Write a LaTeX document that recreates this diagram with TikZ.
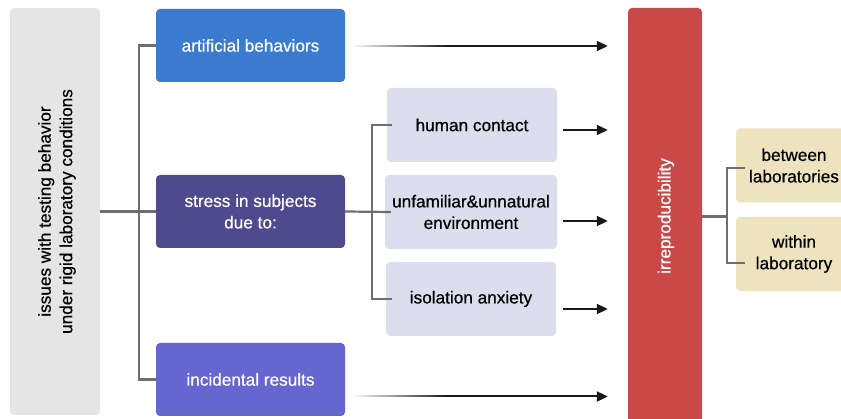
\documentclass[tikz,border=0pt]{standalone}
\usepackage{fontspec}
\setmainfont{Liberation Sans}
\newfontfamily\medsans{Liberation Sans}[FakeBold=0.6]
\usetikzlibrary{arrows.meta,fadings}
\definecolor{cgray}{HTML}{E5E5E5}
\definecolor{cblue}{HTML}{3A7BCF}
\definecolor{cstress}{HTML}{4E4A8E}
\definecolor{cinc}{HTML}{6666CF}
\definecolor{clav}{HTML}{DCDEED}
\definecolor{cred}{HTML}{C94949}
\definecolor{ctan}{HTML}{EEE3BF}
\definecolor{cline}{HTML}{6E6E6E}
\tikzfading[name=wfade, left color=transparent!0, right color=transparent!100]
\begin{document}
\begin{tikzpicture}[x=1pt,y=-1pt,
  box/.style={rounded corners=4pt, inner sep=2pt, align=center, font=\medsans\fontsize{17.2}{21.5}\selectfont},
  darkbox/.style={box, text=white},
  br/.style={draw=cline, line width=2.2pt},
  arr/.style={draw=black!90, line width=2pt, -{Triangle[length=11pt,width=10pt]}}]
\useasboundingbox (0,0) rectangle (841,419);
\clip (0,0) rectangle (841,419);
% left column
\node[box, fill=cgray, minimum width=90pt, minimum height=407pt] (gray) at (55,211.5) {};
\node[box, rotate=90, text=black] (graytxt) at (57,211.5) {issues with testing behavior\\under rigid laboratory conditions};
% main boxes
\node[darkbox, fill=cblue, minimum width=189pt, minimum height=73pt] (art) at (250.5,45.5) {artificial behaviors};
\node[darkbox, fill=cstress, minimum width=189pt, minimum height=73pt] (stress) at (250.5,211.5) {stress in subjects\\due to:};
\node[darkbox, fill=cinc, minimum width=189pt, minimum height=73pt] (inc) at (250.5,379.5) {incidental results};
% sub boxes
\node[box, fill=clav, minimum width=170pt, minimum height=74pt] (hum) at (472,125) {human contact};
\node[box, fill=clav, minimum width=172pt, minimum height=74pt] (unf) at (471,212) {unfamiliar\&unnatural\\environment};
\node[box, fill=clav, minimum width=170pt, minimum height=74pt] (iso) at (471,299) {isolation anxiety};
% red box
\node[darkbox, fill=cred, minimum width=74pt, minimum height=422pt] (red) at (665,219) {};
\node[box, rotate=90, text=white] (redtxt) at (666,216) {irreproducibility};
% tan boxes
\node[box, fill=ctan, minimum width=116pt, minimum height=74pt] (bet) at (794,165.5) {between\\laboratories};
\node[box, fill=ctan, minimum width=116pt, minimum height=74pt] (wit) at (794,254) {within\\laboratory};
% brackets left
\draw[br] (gray.east) -- (stress.west);
\draw[br] (art.west) -- ++(-17,0) |- (inc.west);
% brackets middle
\draw[br] (stress.east) -- ([xshift=6pt]unf.west);
\draw[br] ([xshift=5pt]hum.west) -- ++(-20,0) coordinate (mtop) |- ([xshift=6pt]iso.west);
% brackets right
\coordinate (rb) at (727,216.5);
\coordinate (rbt) at (727,168);
\coordinate (rbb) at (727,263);
\draw[br] (red.east |- rb) -- (rb);
\draw[br] ([xshift=18pt]rbt) -- (rbt) -- (rbb) -- ([xshift=18pt]rbb);
% arrows
\draw[arr, shorten >=20pt] ([shift={(7pt,-0.5pt)}]art.east) coordinate (a1) -- (a1 -| red.west);
\fill[white, path fading=wfade] ([shift={(-1pt,-4pt)}]a1) rectangle ([shift={(95pt,4pt)}]a1);
\draw[arr, shorten >=20pt] ([shift={(7pt,-17pt)}]inc.east) coordinate (a5) -- (a5 -| red.west);
\fill[white, path fading=wfade] ([shift={(-1pt,-4pt)}]a5) rectangle ([shift={(95pt,4pt)}]a5);
\draw[arr, shorten >=20pt] ([shift={(6pt,-5pt)}]hum.east) coordinate (a2) -- (a2 -| red.west);
\draw[arr, shorten >=20pt] ([shift={(6pt,-9pt)}]unf.east) coordinate (a3) -- (a3 -| red.west);
\draw[arr, shorten >=20pt] ([shift={(7pt,-10pt)}]iso.east) coordinate (a4) -- (a4 -| red.west);
\end{tikzpicture}
\end{document}
